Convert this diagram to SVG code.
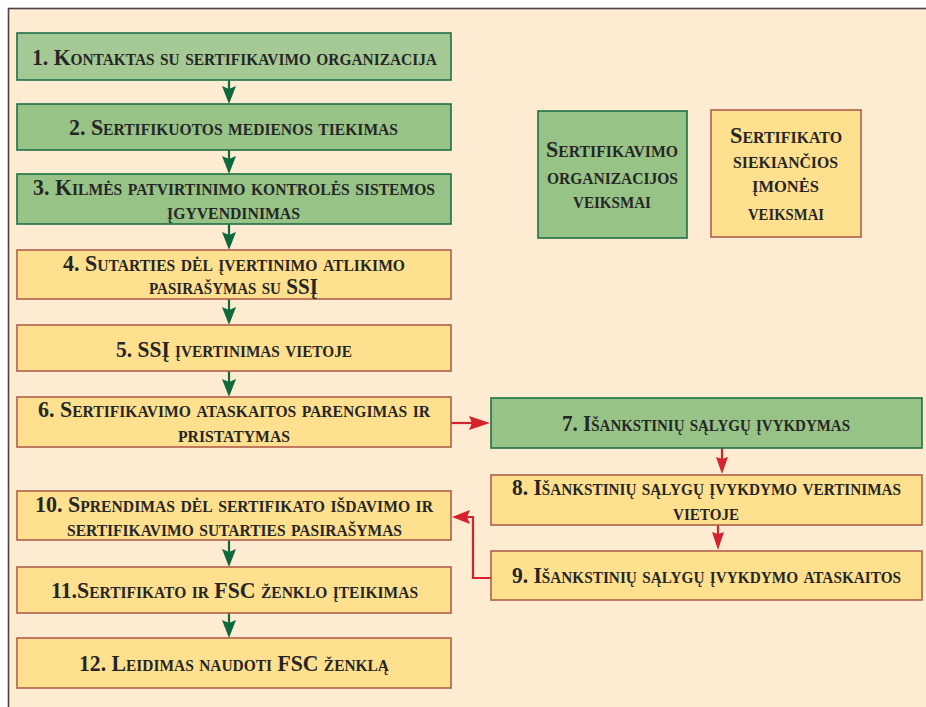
<svg xmlns="http://www.w3.org/2000/svg" width="926" height="707" viewBox="0 0 926 707">
<style>
.g{fill:#97c387;stroke:#1d7149;stroke-width:1.6}
.y{fill:#fee08f;stroke:#b0604a;stroke-width:1.6}
text{font-family:"Liberation Serif","Times New Roman",serif;font-weight:bold;font-variant:small-caps;font-size:22.5px;fill:#262626;text-anchor:middle}
.cg{stroke:#0e6a3c;stroke-width:2.2;fill:none}
.cr{stroke:#d4232c;stroke-width:2.2;fill:none}
</style>
<rect x="0" y="0" width="926" height="707" fill="#ffffff"/>
<rect x="8.5" y="8.5" width="930" height="710" fill="#fdebd2" stroke="#4a4444" stroke-width="1.6"/>

<g id="connectors">
<path class="cg" d="M229,80 V89" />
<path d="M222,86 L229,89 L236,86 L229,104 Z" fill="#0e6a3c"/>
<path class="cg" d="M229,150 V159" />
<path d="M222,156 L229,159 L236,156 L229,174 Z" fill="#0e6a3c"/>
<path class="cg" d="M229,224 V235" />
<path d="M222,232 L229,235 L236,232 L229,250 Z" fill="#0e6a3c"/>
<path class="cg" d="M229,299 V310" />
<path d="M222,307 L229,310 L236,307 L229,325 Z" fill="#0e6a3c"/>
<path class="cg" d="M229,371 V382" />
<path d="M222,379 L229,382 L236,379 L229,397 Z" fill="#0e6a3c"/>
<path class="cg" d="M229,540 V552" />
<path d="M222,549 L229,552 L236,549 L229,567 Z" fill="#0e6a3c"/>
<path class="cg" d="M229,613 V623" />
<path d="M222,620 L229,623 L236,620 L229,638 Z" fill="#0e6a3c"/>
<path class="cr" d="M451,423 H472" />
<path d="M469,416 L472,423 L469,430 L490,423 Z" fill="#d4232c"/>
<path class="cr" d="M722,448 V459" />
<path d="M716,457 L722,459 L728,457 L722,474 Z" fill="#d4232c"/>
<path class="cr" d="M718,525 V534" />
<path d="M712,532 L718,534 L724,532 L718,550 Z" fill="#d4232c"/>
<path class="cr" d="M491,578 H473 V517 H467" />
<path d="M470,510 L467,517 L470,524 L452,517 Z" fill="#d4232c"/>
</g>

<g id="n1"><rect class="g" x="17" y="33" width="434" height="47" style="fill:#a5c994"/><text x="234.5" y="65" textLength="405" lengthAdjust="spacingAndGlyphs">1. Kontaktas su sertifikavimo organizacija</text></g>
<g id="n2"><rect class="g" x="17" y="104" width="434" height="46"/><text x="233.5" y="135" textLength="329" lengthAdjust="spacingAndGlyphs">2. Sertifikuotos medienos tiekimas</text></g>
<g id="n3"><rect class="g" x="17" y="174" width="434" height="50"/><text x="234" y="195" textLength="402" lengthAdjust="spacingAndGlyphs">3. Kilmės patvirtinimo kontrolės sistemos</text><text x="233.5" y="219" textLength="133" lengthAdjust="spacingAndGlyphs">įgyvendinimas</text></g>
<g id="n4"><rect class="y" x="17" y="250" width="434" height="49"/><text x="234" y="271" textLength="342" lengthAdjust="spacingAndGlyphs">4. Sutarties dėl įvertinimo atlikimo</text><text x="233.5" y="294" textLength="169" lengthAdjust="spacingAndGlyphs">pasirašymas su SSĮ</text></g>
<g id="n5"><rect class="y" x="17" y="325" width="434" height="46"/><text x="234" y="357" textLength="236" lengthAdjust="spacingAndGlyphs">5. SSĮ įvertinimas vietoje</text></g>
<g id="n6"><rect class="y" x="17" y="397" width="434" height="50"/><text x="234" y="417" textLength="392" lengthAdjust="spacingAndGlyphs">6. Sertifikavimo ataskaitos parengimas ir</text><text x="234" y="442" textLength="112" lengthAdjust="spacingAndGlyphs">pristatymas</text></g>
<g id="n7"><rect class="g" x="491" y="398" width="431" height="50"/><text x="706" y="431" textLength="288" lengthAdjust="spacingAndGlyphs">7. Išankstinių sąlygų įvykdymas</text></g>
<g id="n8"><rect class="y" x="491" y="475" width="431" height="50"/><text x="706.5" y="495" textLength="389" lengthAdjust="spacingAndGlyphs">8. Išankstinių sąlygų įvykdymo vertinimas</text><text x="706" y="520" textLength="66" lengthAdjust="spacingAndGlyphs">vietoje</text></g>
<g id="n9"><rect class="y" x="491" y="551" width="431" height="49"/><text x="706.5" y="583" textLength="389" lengthAdjust="spacingAndGlyphs">9. Išankstinių sąlygų įvykdymo ataskaitos</text></g>
<g id="n10"><rect class="y" x="17" y="491" width="434" height="49"/><text x="234" y="512" textLength="398" lengthAdjust="spacingAndGlyphs">10. Sprendimas dėl sertifikato išdavimo ir</text><text x="234.5" y="536" textLength="335" lengthAdjust="spacingAndGlyphs">sertifikavimo sutarties pasirašymas</text></g>
<g id="n11"><rect class="y" x="17" y="567" width="434" height="46"/><text x="234.5" y="598" textLength="367" lengthAdjust="spacingAndGlyphs">11.Sertifikato ir FSC ženklo įteikimas</text></g>
<g id="n12"><rect class="y" x="17" y="638" width="434" height="50"/><text x="234" y="671" textLength="310" lengthAdjust="spacingAndGlyphs">12. Leidimas naudoti FSC ženklą</text></g>
<g id="legend-green"><rect class="g" x="538" y="111" width="149" height="127"/><text x="612" y="157" textLength="132" lengthAdjust="spacingAndGlyphs">Sertifikavimo</text><text x="612.5" y="184" textLength="131" lengthAdjust="spacingAndGlyphs">organizacijos</text><text x="612" y="208" textLength="78" lengthAdjust="spacingAndGlyphs">veiksmai</text></g>
<g id="legend-yellow"><rect class="y" x="711" y="110" width="150" height="127"/><text x="786" y="143" textLength="112" lengthAdjust="spacingAndGlyphs">Sertifikato</text><text x="785.5" y="168" textLength="105" lengthAdjust="spacingAndGlyphs">siekiančios</text><text x="785.5" y="192" textLength="67" lengthAdjust="spacingAndGlyphs">įmonės</text><text x="786" y="220" textLength="76" lengthAdjust="spacingAndGlyphs">veiksmai</text></g>
</svg>
